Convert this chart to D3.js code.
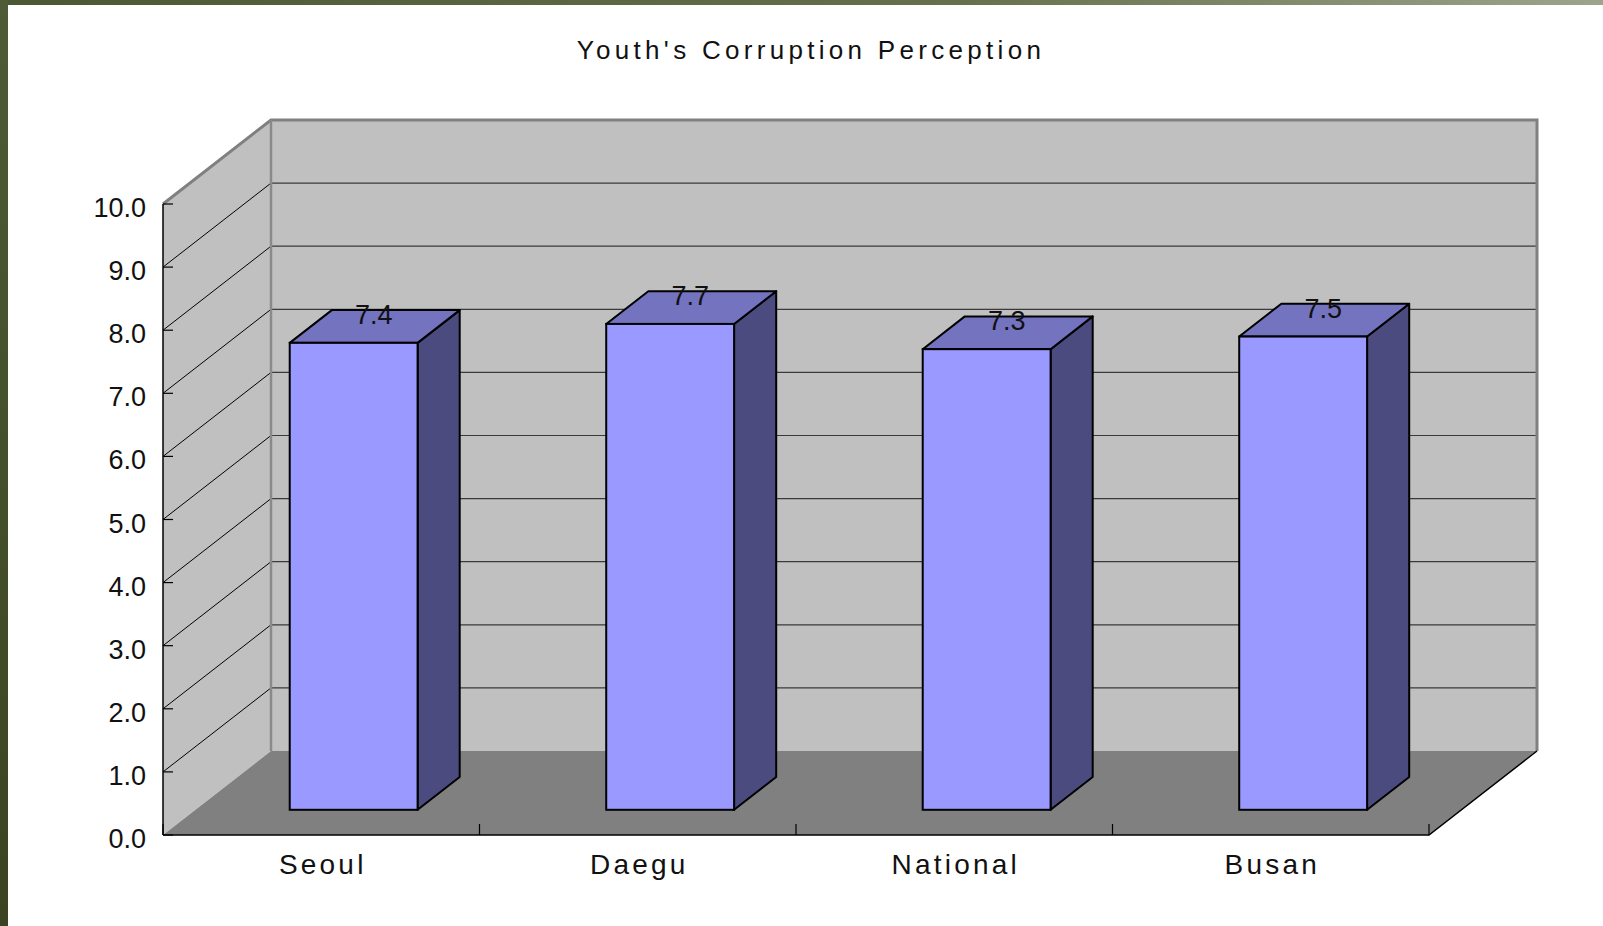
<!DOCTYPE html>
<html>
<head>
<meta charset="utf-8">
<script src="https://cdn.jsdelivr.net/npm/d3@7"></script>
<style>
  html, body { margin: 0; padding: 0; background: #ffffff; }
  svg { display: block; }
  text { font-family: "Liberation Sans", Arial, sans-serif; fill: #111; }
</style>
</head>
<body>
<script>
// ---- data ----
const title = "Youth's Corruption Perception";
const categories = ["Seoul", "Daegu", "National", "Busan"];
const values = [7.4, 7.7, 7.3, 7.5];
const valueLabels = ["7.4", "7.7", "7.3", "7.5"];
const yTicks = [0, 1, 2, 3, 4, 5, 6, 7, 8, 9, 10];

// ---- layout ----
const W = 1603, H = 926;
const DX = 108, DY = -84;           // full depth offset of the 3D box
const Z0 = 0.3, Z1 = 0.69;          // bar depth range (fraction of depth)
const barFrac = 0.404;              // bar width as fraction of band

const svg = d3.select("body").append("svg").attr("width", W).attr("height", H);

// frame border
const defs = svg.append("defs");
const gTop = defs.append("linearGradient").attr("id", "gTop").attr("x1", 0).attr("x2", 1).attr("y1", 0).attr("y2", 0);
gTop.append("stop").attr("offset", 0).attr("stop-color", "#4b5732");
gTop.append("stop").attr("offset", 0.6).attr("stop-color", "#66714b");
gTop.append("stop").attr("offset", 1).attr("stop-color", "#9ca48c");
const gLeft = defs.append("linearGradient").attr("id", "gLeft").attr("x1", 0).attr("x2", 0).attr("y1", 0).attr("y2", 1);
gLeft.append("stop").attr("offset", 0).attr("stop-color", "#4f5a36");
gLeft.append("stop").attr("offset", 1).attr("stop-color", "#3a4420");
svg.append("rect").attr("x", 0).attr("y", 0).attr("width", W).attr("height", 5).attr("fill", "url(#gTop)");
svg.append("rect").attr("x", 0).attr("y", 0).attr("width", 8).attr("height", H).attr("fill", "url(#gLeft)");

const x = d3.scaleBand().domain(categories).range([163, 1429]).paddingInner(0).paddingOuter(0);
const y = d3.scaleLinear().domain([0, 10]).range([835, 204]);

const x0 = x.range()[0], x1 = x.range()[1];
const yb = y(0), yt = y(10);
const pt = (px, py, z) => [px + z * DX, py + z * DY];
const poly = pts => pts.map(p => p.join(",")).join(" ");

// back wall
svg.append("polygon")
  .attr("points", poly([pt(x0, yt, 1), pt(x1, yt, 1), pt(x1, yb, 1), pt(x0, yb, 1)]))
  .attr("fill", "#c0c0c0");
// side wall
svg.append("polygon")
  .attr("points", poly([[x0, yb], [x0, yt], pt(x0, yt, 1), pt(x0, yb, 1)]))
  .attr("fill", "#c0c0c0");

// back gridlines
svg.append("g").selectAll("line").data(yTicks.filter(v => v > 0 && v < 10)).join("line")
  .attr("x1", x0 + DX).attr("x2", x1 + DX)
  .attr("y1", d => y(d) + DY).attr("y2", d => y(d) + DY)
  .attr("stroke", "#3a3a3a").attr("stroke-width", 1.2);
// side gridlines
svg.append("g").selectAll("line").data(yTicks.filter(v => v > 0 && v < 10)).join("line")
  .attr("x1", x0).attr("x2", x0 + DX)
  .attr("y1", d => y(d)).attr("y2", d => y(d) + DY)
  .attr("stroke", "#000").attr("stroke-width", 1);

// wall edges (grey)
svg.append("polyline")
  .attr("points", poly([[x0, yt], pt(x0, yt, 1), pt(x1, yt, 1), pt(x1, yb, 1)]))
  .attr("fill", "none").attr("stroke", "#808080").attr("stroke-width", 3);
svg.append("line")
  .attr("x1", x0 + DX).attr("x2", x0 + DX).attr("y1", yt + DY).attr("y2", yb + DY)
  .attr("stroke", "#8a8a8a").attr("stroke-width", 2.5);

// floor
svg.append("polygon")
  .attr("points", poly([[x0, yb], [x1, yb], pt(x1, yb, 1), pt(x0, yb, 1)]))
  .attr("fill", "#808080");
svg.append("polyline")
  .attr("points", poly([[x0, yb], [x1, yb], pt(x1, yb, 1)]))
  .attr("fill", "none").attr("stroke", "#000").attr("stroke-width", 1.5);

// y axis line + ticks
svg.append("line").attr("x1", x0).attr("x2", x0).attr("y1", yt).attr("y2", yb)
  .attr("stroke", "#000").attr("stroke-width", 1.5);
svg.append("g").selectAll("line").data(yTicks).join("line")
  .attr("x1", x0).attr("x2", x0 + 10).attr("y1", d => y(d)).attr("y2", d => y(d))
  .attr("stroke", "#000").attr("stroke-width", 1.2);
svg.append("g").selectAll("text").data(yTicks).join("text")
  .attr("x", x0 - 17).attr("y", d => y(d) + 4)
  .attr("text-anchor", "end").attr("dominant-baseline", "central")
  .style("font-size", "27px")
  .text(d => d3.format(".1f")(d));

// category ticks on floor front edge
const catTicks = categories.map(c => x(c)).concat([x1]);
svg.append("g").selectAll("line").data(catTicks).join("line")
  .attr("x1", d => d).attr("x2", d => d).attr("y1", yb).attr("y2", yb - 11)
  .attr("stroke", "#000").attr("stroke-width", 1.2);

// category labels
svg.append("g").selectAll("text").data(categories).join("text")
  .attr("x", d => x(d) + x.bandwidth() / 2 + 1.5).attr("y", 874)
  .attr("text-anchor", "middle")
  .style("font-size", "28px").style("letter-spacing", "3.2px")
  .text(d => d);

// bars
const bars = categories.map((c, i) => {
  const bw = x.bandwidth() * barFrac;
  const cx = x(c) + x.bandwidth() / 2;
  const lx = cx - bw / 2, rx = cx + bw / 2;
  const [fl, fb] = pt(lx, yb, Z0);
  const [fr] = pt(rx, yb, Z0);
  const ft = pt(lx, y(values[i]), Z0)[1];
  const dz = Z1 - Z0;
  return { c, i, fl, fr, fb, ft, ox: dz * DX, oy: dz * DY };
});
const bg = svg.append("g");
bars.forEach(b => {
  const g = bg.append("g");
  g.append("polygon")
    .attr("points", poly([[b.fr, b.ft], [b.fr + b.ox, b.ft + b.oy], [b.fr + b.ox, b.fb + b.oy], [b.fr, b.fb]]))
    .attr("fill", "#4b4b80").attr("stroke", "#000").attr("stroke-width", 2).attr("stroke-linejoin", "round");
  g.append("polygon")
    .attr("points", poly([[b.fl, b.ft], [b.fl + b.ox, b.ft + b.oy], [b.fr + b.ox, b.ft + b.oy], [b.fr, b.ft]]))
    .attr("fill", "#7373c0").attr("stroke", "#000").attr("stroke-width", 2).attr("stroke-linejoin", "round");
  g.append("rect")
    .attr("x", b.fl).attr("y", b.ft).attr("width", b.fr - b.fl).attr("height", b.fb - b.ft)
    .attr("fill", "#9999ff").attr("stroke", "#000").attr("stroke-width", 2);
});

// value labels
svg.append("g").selectAll("text").data(bars).join("text")
  .attr("x", d => (d.fl + d.fr) / 2 + 20).attr("y", d => d.ft - 19)
  .attr("text-anchor", "middle")
  .style("font-size", "27px")
  .text(d => valueLabels[d.i]);

// title
svg.append("text")
  .attr("x", 811).attr("y", 59)
  .attr("text-anchor", "middle")
  .style("font-size", "26px").style("letter-spacing", "4.3px")
  .text(title);
</script>
</body>
</html>
